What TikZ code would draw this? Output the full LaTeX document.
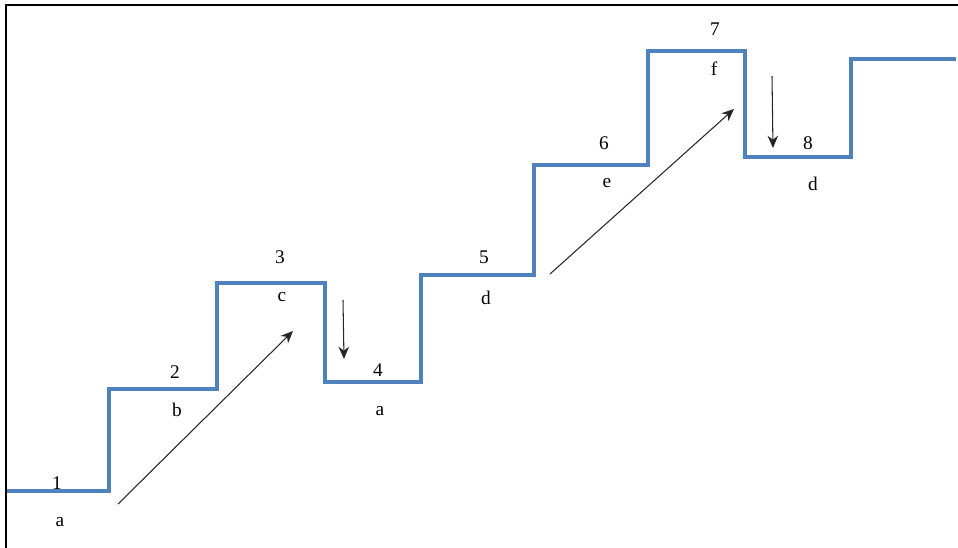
\documentclass[tikz,border=0pt]{standalone}
\usepackage{fontspec}
\setmainfont{Liberation Serif}
\usetikzlibrary{arrows.meta,positioning}
\definecolor{stairblue}{RGB}{79,129,189}
\tikzset{
  stair/.style={stairblue,line width=2.5pt,line join=miter},
  lbl/.style={inner sep=1pt,font=\fontsize{11}{13}\selectfont},
  move/.style={-{Stealth[length=7pt,width=6pt]},semithick,black!85}
}

\begin{document}
\begin{tikzpicture}[x=0.02cm,y=-0.02cm]
\useasboundingbox (0,0) rectangle (958,548);
\draw[line width=1.2pt] (6,548) -- (6,5) -- (958,5);
\draw[stair] (7,491) -- (109,491) -- (109,389) -- (217,389) -- (217,283)
  -- (325,283) -- (325,382) -- (421,382) -- (421,275) -- (534,275)
  -- (534,165) -- (648,165) -- (648,51) -- (745,51) -- (745,157)
  -- (851,157) -- (851,59) -- (956,59);
% step labels
\node[lbl] (s1) at (57,483) {1};
\node[lbl] (s2) at (175,372) {2};
\node[lbl] (s3) at (280,257) {3};
\node[lbl] (s4) at (378,370) {4};
\node[lbl] (s5) at (484,257) {5};
\node[lbl] (s6) at (604,143) {6};
\node[lbl] (s7) at (715,29) {7};
\node[lbl] (s8) at (808,143) {8};
% letters below
\node[lbl] (l1) at (60,522) {a};
\node[lbl] (l2) at (177,410) {b};
\node[lbl] (l3) at (282,297) {c};
\node[lbl] (l4) at (380,411) {a};
\node[lbl] (l5) at (486,298) {d};
\node[lbl] (l6) at (607,183) {e};
\node[lbl] (l7) at (714,69) {f};
\node[lbl] (l8) at (813,184) {d};
% arrows
\coordinate (up1a) at (118,504);
\coordinate (up1b) at (293,331);
\coordinate (up2a) at (550,274);
\coordinate (up2b) at (734,109);
\coordinate (dn1a) at (343,300);
\coordinate (dn1b) at (344,359);
\coordinate (dn2a) at (772,76);
\coordinate (dn2b) at (773,148);
\draw[move] (up1a) -- (up1b);
\draw[move] (up2a) -- (up2b);
\draw[move] (dn1a) -- (dn1b);
\draw[move] (dn2a) -- (dn2b);
\end{tikzpicture}
\end{document}
